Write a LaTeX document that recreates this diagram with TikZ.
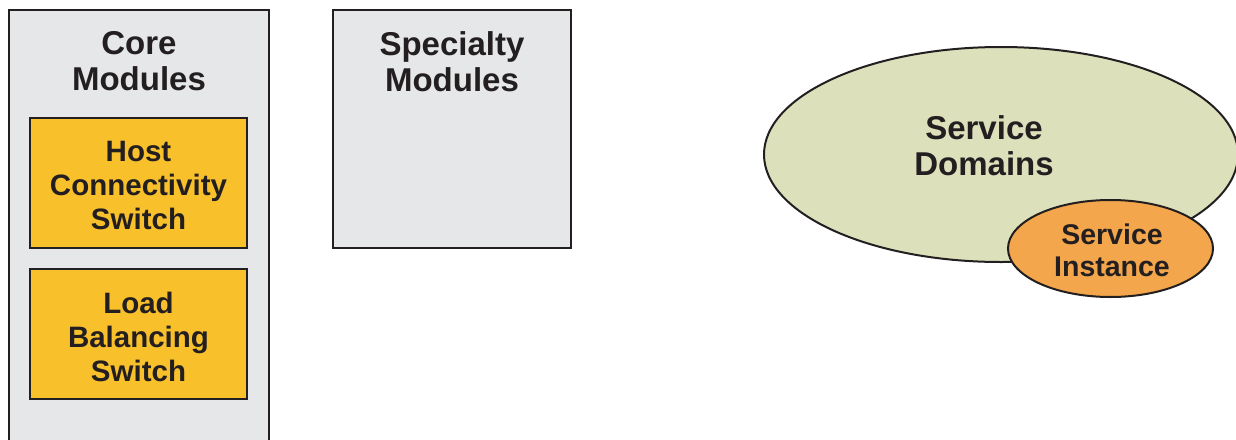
\documentclass[tikz,border=0pt]{standalone}
\usepackage{fontspec}
\setmainfont{Liberation Sans}
\usetikzlibrary{shapes.geometric}
\definecolor{boxgrey}{HTML}{E6E7E8}
\definecolor{switchyellow}{HTML}{F8C02B}
\definecolor{domgreen}{HTML}{DCE1BC}
\definecolor{instorange}{HTML}{F3A64B}
\definecolor{outline}{HTML}{231F20}
\tikzset{
  panel/.style={draw=outline, line width=2pt, fill=boxgrey},
  switchbox/.style={draw=outline, line width=2pt, fill=switchyellow},
  titletext/.style={align=center, font=\bfseries\fontsize{33}{36}\selectfont, text=outline, inner sep=0pt},
  innertext/.style={align=center, font=\bfseries\fontsize{29.5}{34}\selectfont, text=outline, inner sep=0pt},
  insttext/.style={align=center, font=\bfseries\fontsize{28.5}{32}\selectfont, text=outline, inner sep=0pt},
}
\begin{document}
\begin{tikzpicture}[x=1pt,y=-1pt]
\useasboundingbox (0,0) rectangle (1236,439);
\clip (0,0) rectangle (1236,439);
% core modules panel
\draw[panel] (9,10) rectangle (269,460);
\node[titletext] (coretitle) at (139,61.5) {Core\\Modules};
\node[switchbox, minimum width=217pt, minimum height=130pt, inner sep=0pt] (host) at (138.5,183) {};
\node[innertext] (hosttext) at ([yshift=-2pt]host.center) {Host\\Connectivity\\Switch};
\node[switchbox, minimum width=217pt, minimum height=130pt, inner sep=0pt] (load) at (138.5,334) {};
\node[innertext] (loadtext) at ([yshift=-3pt]load.center) {Load\\Balancing\\Switch};
% specialty modules panel
\draw[panel] (333,10) rectangle (571,248);
\node[titletext] (spectitle) at (452,61.5) {Specialty\\Modules};
% service domains
\node[ellipse, draw=outline, line width=2pt, fill=domgreen, minimum width=474pt, minimum height=215pt, inner sep=0pt] (domains) at (1001,154.5) {};
\node[titletext] (domtext) at (984,145.5) {Service\\Domains};
\node[ellipse, draw=outline, line width=2pt, fill=instorange, minimum width=205pt, minimum height=97pt, inner sep=0pt] (instance) at (1110.5,248.5) {};
\node[insttext] (insttext) at (1112,250) {Service\\Instance};
\end{tikzpicture}
\end{document}
